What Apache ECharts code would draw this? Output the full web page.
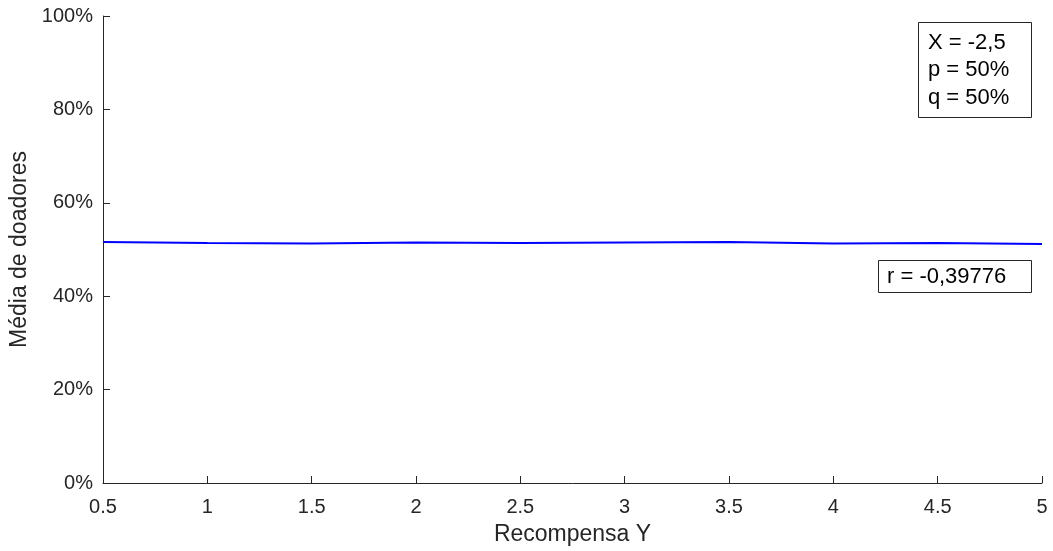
<!DOCTYPE html>
<html>
<head>
<meta charset="utf-8">
<script src="https://cdn.jsdelivr.net/npm/echarts@6/dist/echarts.min.js"></script>
<style>
  html, body { margin: 0; padding: 0; background: #fff; }
  #chart { width: 1053px; height: 551px; }
</style>
</head>
<body>
<div id="chart"></div>
<script>
// recompensa Y vs média de doadores (%)
const recompensa = [0.5, 1, 1.5, 2, 2.5, 3, 3.5, 4, 4.5, 5]
const mediaDoadores = [51.6, 51.4, 51.3, 51.5, 51.4, 51.5, 51.6, 51.3, 51.4, 51.2]
const paramLines = ['X = -2,5', 'p = 50%', 'q = 50%']
const corrText = 'r = -0,39776'

const axisColor = '#262626'
const font = 'Liberation Sans, Arial, sans-serif'

const chart = echarts.init(document.getElementById('chart'))
chart.setOption({
  animation: false,
  grid: { left: 103, right: 11, top: 16, bottom: 68, outerBoundsMode: 'none', containLabel: false },
  xAxis: {
    type: 'value',
    min: 0.5,
    max: 5,
    interval: 0.5,
    name: 'Recompensa Y',
    nameLocation: 'middle',
    nameGap: 40,
    nameTextStyle: { color: axisColor, fontSize: 23, fontFamily: font },
    axisLine: { show: true, lineStyle: { color: axisColor, width: 1 } },
    axisTick: { show: true, inside: true, length: 7, lineStyle: { color: axisColor } },
    axisLabel: { color: axisColor, fontSize: 20, fontFamily: font, margin: 14 },
    splitLine: { show: false }
  },
  yAxis: {
    type: 'value',
    min: 0,
    max: 100,
    interval: 20,
    name: 'Média de doadores',
    nameLocation: 'middle',
    nameGap: 72,
    nameTextStyle: { color: axisColor, fontSize: 23, fontFamily: font },
    axisLine: { show: true, lineStyle: { color: axisColor, width: 1 } },
    axisTick: { show: true, inside: true, length: 7, lineStyle: { color: axisColor } },
    axisLabel: { color: axisColor, fontSize: 20, fontFamily: font, margin: 10, formatter: v => v + '%' },
    splitLine: { show: false }
  },
  series: [{
    type: 'line',
    data: recompensa.map((x, i) => [x, mediaDoadores[i]]),
    symbol: 'none',
    lineStyle: { color: '#0000ff', width: 2 }
  }],
  graphic: [
    {
      type: 'rect',
      shape: { x: 918.5, y: 22.5, width: 113, height: 95 },
      style: { fill: '#fff', stroke: axisColor, lineWidth: 1 }
    },
    {
      type: 'text',
      x: 928, y: 70,
      style: { text: paramLines.join('\n'), font: '22px ' + font, fill: '#000', lineHeight: 27.5, verticalAlign: 'middle' }
    },
    {
      type: 'rect',
      shape: { x: 878.5, y: 260.5, width: 153, height: 32 },
      style: { fill: '#fff', stroke: axisColor, lineWidth: 1 }
    },
    {
      type: 'text',
      x: 887, y: 277,
      style: { text: corrText, font: '22px ' + font, fill: '#000', verticalAlign: 'middle' }
    }
  ]
})
</script>
</body>
</html>
